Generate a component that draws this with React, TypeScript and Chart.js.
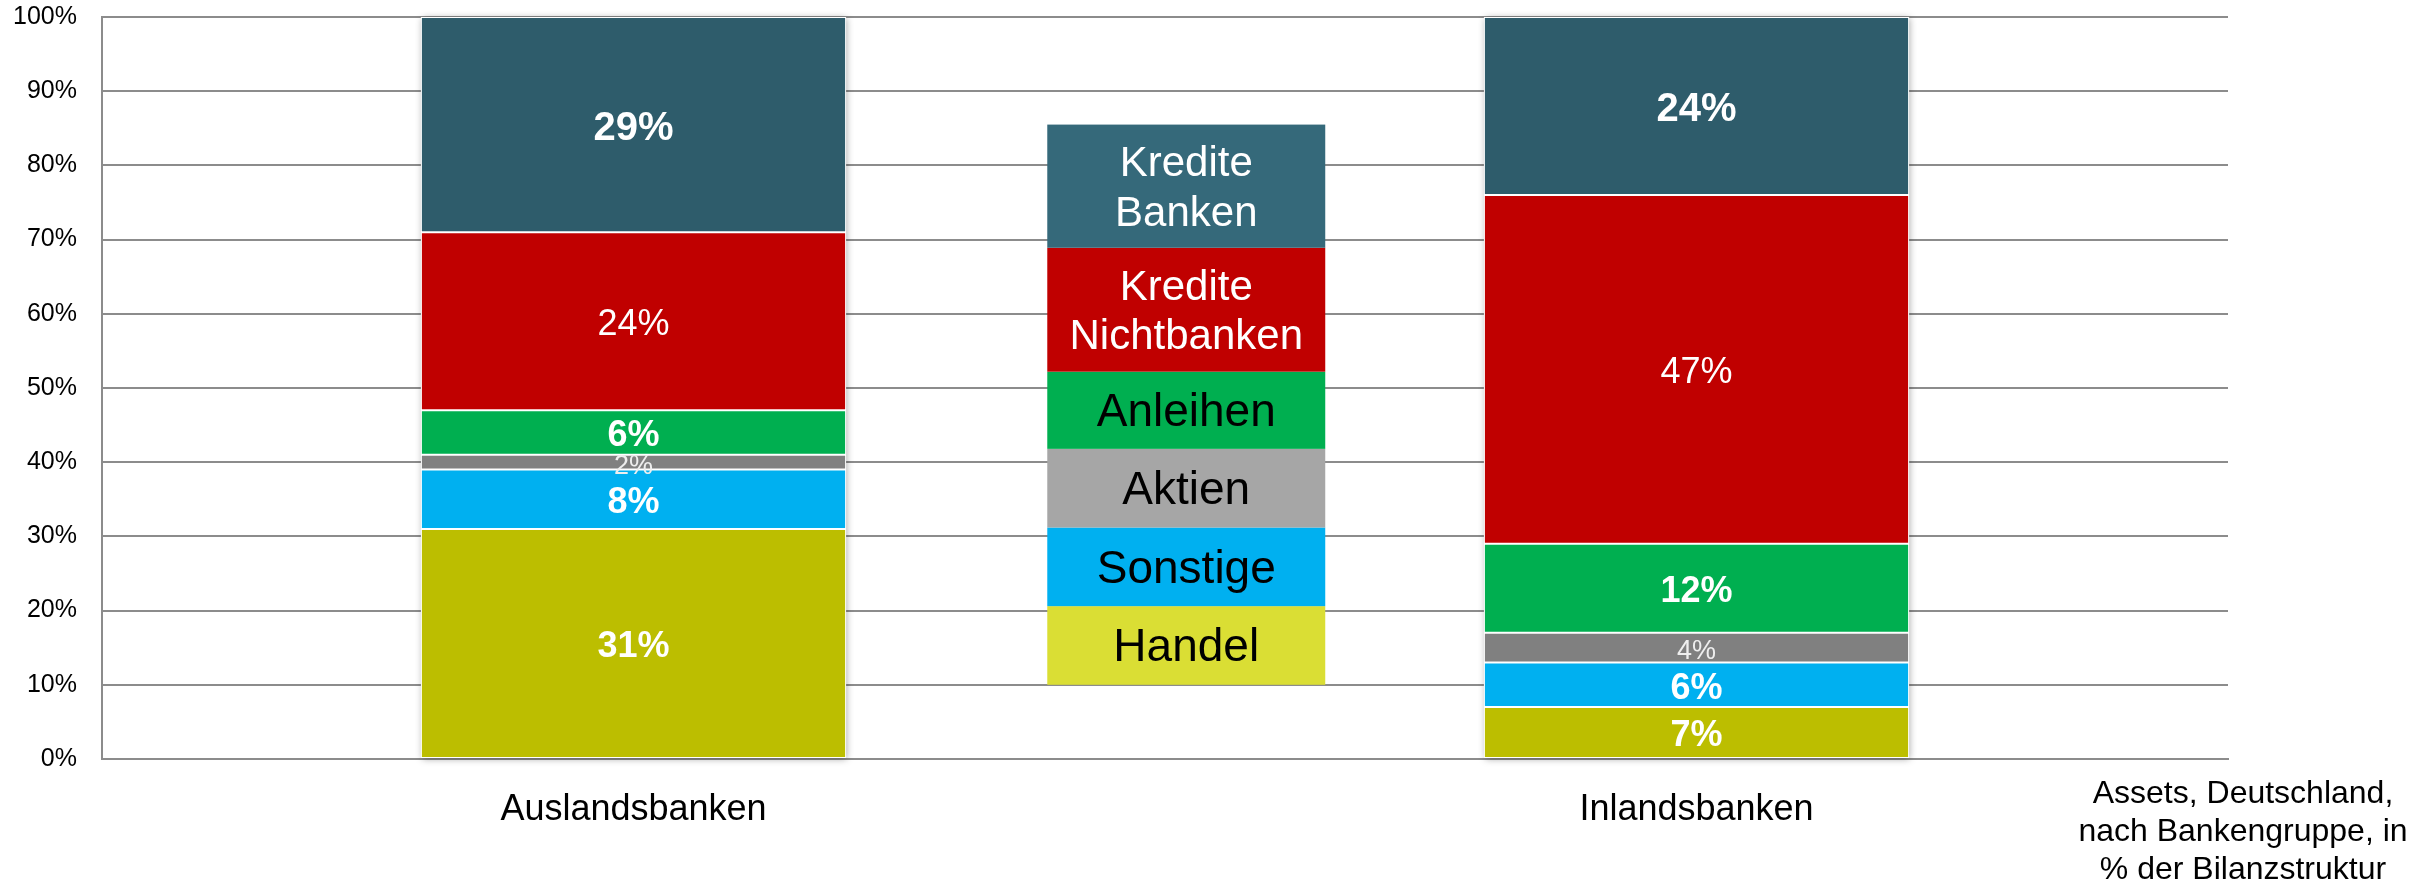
import React, { useEffect, useRef } from "react";
import { Chart, registerables } from "chart.js";

Chart.register(...registerables);

// ---------- data ----------
const categories = ["Auslandsbanken", "Inlandsbanken"];
const seriesNames = ["Handel", "Sonstige", "Aktien", "Anleihen", "Kredite Nichtbanken", "Kredite Banken"];
const handel = [31, 7];
const sonstige = [8, 6];
const aktien = [2, 4];
const anleihen = [6, 12];
const krediteNichtbanken = [24, 47];
const krediteBanken = [29, 24];
const yTicks = [0, 10, 20, 30, 40, 50, 60, 70, 80, 90, 100];
const legendLines = [["Handel"], ["Sonstige"], ["Aktien"], ["Anleihen"], ["Kredite", "Nichtbanken"], ["Kredite", "Banken"]];
const noteLines = ["Assets, Deutschland,", "nach Bankengruppe, in", "% der Bilanzstruktur"];

// ---------- styles / layout ----------
const FONT = '"Liberation Sans", Arial, Helvetica, sans-serif';
const barColors = ["#BCBE00", "#00B0F0", "#808080", "#00AF50", "#C00000", "#2E5C6B"];
const legendColors = ["#DADE34", "#00B0F0", "#A6A6A6", "#00AF50", "#C00000", "#35697A"];
const legendTextColors = ["#000000", "#000000", "#000000", "#000000", "#FFFFFF", "#FFFFFF"];
const legendFontSizes = [46, 46, 46, 46, 42, 42];
const legendBounds = [10, 20.6, 31.2, 41.8, 52.2, 68.9, 85.5]; // box edges in axis units
const legendCenter = 0.52; // category-axis units
const legendWidth = 0.2615;
const labelStyles = [
  { size: 36, weight: "bold", color: "#FFFFFF" },
  { size: 36, weight: "bold", color: "#FFFFFF" },
  { size: 27, weight: "normal", color: "#EEEEEE" },
  { size: 36, weight: "bold", color: "#FFFFFF" },
  { size: 36, weight: "normal", color: "#FFFFFF" },
  { size: 40, weight: "bold", color: "#FFFFFF" },
];
const GRID = "#8C8C8C";

const seriesValues = [handel, sonstige, aktien, anleihen, krediteNichtbanken, krediteBanken];

const shadowPlugin = {
  id: "stackShadow",
  beforeDatasetsDraw(chart: any) {
    const ctx = chart.ctx;
    const n = chart.data.datasets.length;
    const first = chart.getDatasetMeta(0);
    const last = chart.getDatasetMeta(n - 1);
    first.data.forEach((el: any, i: number) => {
      const topEl = last.data[i];
      const w = el.width;
      const left = el.x - w / 2;
      const top = topEl.y;
      const bottom = el.base;
      ctx.save();
      ctx.shadowColor = "rgba(0,0,0,0.35)";
      ctx.shadowBlur = 7;
      ctx.shadowOffsetX = 1;
      ctx.shadowOffsetY = 1;
      ctx.fillStyle = "#FFFFFF";
      ctx.fillRect(left, top, w, bottom - top);
      ctx.restore();
    });
  },
};

const labelPlugin = {
  id: "segLabels",
  afterDatasetsDraw(chart: any) {
    const ctx = chart.ctx;
    chart.data.datasets.forEach((ds: any, di: number) => {
      const meta = chart.getDatasetMeta(di);
      const st = labelStyles[di];
      meta.data.forEach((el: any, i: number) => {
        const v = ds.data[i];
        ctx.save();
        ctx.font = `${st.weight} ${st.size}px ${FONT}`;
        ctx.fillStyle = st.color;
        ctx.textAlign = "center";
        ctx.textBaseline = "middle";
        ctx.fillText(`${v}%`, el.x, (el.y + el.base) / 2 + 4);
        ctx.restore();
      });
    });
  },
};

const legendPlugin = {
  id: "columnLegend",
  beforeDatasetsDraw(chart: any) {
    const ctx = chart.ctx;
    const xs = chart.scales.x;
    const ys = chart.scales.y;
    const x0 = xs.getPixelForValue(legendCenter - legendWidth / 2);
    const x1 = xs.getPixelForValue(legendCenter + legendWidth / 2);
    const cx = (x0 + x1) / 2;
    legendLines.forEach((lines, i) => {
      const yb = ys.getPixelForValue(legendBounds[i]);
      const yt = ys.getPixelForValue(legendBounds[i + 1]);
      ctx.save();
      ctx.fillStyle = legendColors[i];
      ctx.fillRect(x0, yt, x1 - x0, yb - yt);
      ctx.font = `normal ${legendFontSizes[i]}px ${FONT}`;
      ctx.fillStyle = legendTextColors[i];
      ctx.textAlign = "center";
      ctx.textBaseline = "middle";
      const lh = 49.5;
      const cy = (yt + yb) / 2;
      lines.forEach((t, k) => {
        ctx.fillText(t, cx, cy + (k - (lines.length - 1) / 2) * lh + 3);
      });
      ctx.restore();
    });
  },
};

const notePlugin = {
  id: "note",
  afterDraw(chart: any) {
    const ctx = chart.ctx;
    ctx.save();
    ctx.font = `normal 32px ${FONT}`;
    ctx.fillStyle = "#000000";
    ctx.textAlign = "center";
    ctx.textBaseline = "alphabetic";
    const cx = 2243;
    noteLines.forEach((t, k) => {
      ctx.fillText(t, cx, 803 + k * 38);
    });
    ctx.restore();
  },
};

export default function App() {
  const ref = useRef<HTMLCanvasElement | null>(null);

  useEffect(() => {
    if (!ref.current) return;
    Chart.defaults.font.family = FONT;
    const chart = new Chart(ref.current, {
      type: "bar",
      data: {
        labels: categories,
        datasets: seriesNames.map((name, i) => ({
          label: name,
          data: seriesValues[i],
          backgroundColor: barColors[i],
          borderColor: "#FFFFFF",
          borderWidth: 1,
          borderSkipped: false,
          categoryPercentage: 1,
          barPercentage: 0.4,
        })),
      },
      options: {
        responsive: false,
        animation: false,
        events: [],
        layout: { padding: { top: 17, right: 199, left: 0, bottom: 0 } },
        plugins: {
          legend: { display: false },
          tooltip: { enabled: false },
          title: { display: false },
        },
        scales: {
          x: {
            stacked: true,
            grid: { display: false, drawTicks: false },
            border: { display: true, color: GRID, width: 2 },
            ticks: {
              color: "#000000",
              font: { size: 36, family: FONT },
              padding: 29,
              maxRotation: 0,
            },
            afterFit: (s: any) => {
              s.height = 124;
              s.paddingLeft = 0;
              s.paddingRight = 0;
            },
          },
          y: {
            stacked: true,
            min: 0,
            max: 100,
            afterBuildTicks: (s: any) => {
              s.ticks = yTicks.map((v) => ({ value: v }));
            },
            grid: { color: GRID, lineWidth: 2, drawTicks: false },
            border: { display: true, color: GRID, width: 2 },
            ticks: {
              color: "#000000",
              font: { size: 25, family: FONT },
              padding: 25,
              callback: (v: any) => `${v}%`,
            },
            afterFit: (s: any) => {
              s.width = 102;
              s.paddingTop = 0;
              s.paddingBottom = 0;
            },
          },
        },
      },
      plugins: [shadowPlugin, legendPlugin, labelPlugin, notePlugin],
    });
    return () => chart.destroy();
  }, []);

  return (
    <div style={{ position: "absolute", left: 0, top: 0, width: 2427, height: 883, background: "#FFFFFF" }}>
      <canvas ref={ref} width={2427} height={883} style={{ display: "block" }} />
    </div>
  );
}
